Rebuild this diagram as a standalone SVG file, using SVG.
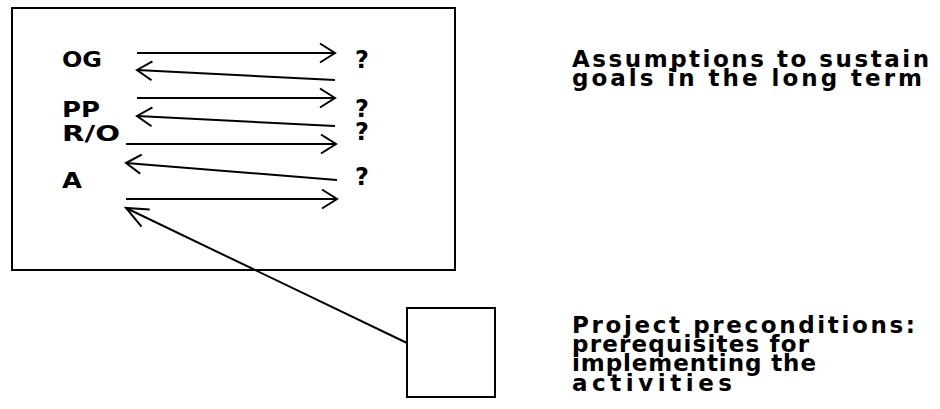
<svg xmlns="http://www.w3.org/2000/svg" width="940" height="409" viewBox="0 0 940 409">
<style>
.box{fill:#fff;stroke:#000;stroke-width:2}
.lbl{font-family:"DejaVu Sans","Liberation Sans",sans-serif;font-weight:bold;font-size:22px;fill:#000}
.q{font-family:"DejaVu Sans","Liberation Sans",sans-serif;font-weight:bold;font-size:24px;fill:#000}
.txt{font-family:"DejaVu Sans","Liberation Sans",sans-serif;font-weight:bold;font-size:23px;fill:#000}
.arr{fill:none;stroke:#000;stroke-width:2;marker-end:url(#head)}
.arr2{fill:none;stroke:#000;stroke-width:2;marker-end:url(#head2)}
</style>
<defs>
<marker id="head" markerUnits="userSpaceOnUse" orient="auto" refX="0" refY="0" markerWidth="30" markerHeight="30" viewBox="-20 -15 30 30" overflow="visible">
<path d="M -15 -9.5 L 0 0 L -15 9.5" fill="none" stroke="#000" stroke-width="2"/>
</marker>
<marker id="head2" markerUnits="userSpaceOnUse" orient="auto" refX="0" refY="0" markerWidth="30" markerHeight="30" viewBox="-25 -15 30 30" overflow="visible">
<path d="M -22 -10 L 0 0 L -22 9" fill="none" stroke="#000" stroke-width="2"/>
</marker>
</defs>
<g id="main-box">
<rect class="box" x="12" y="8" width="443" height="262"/>
<text class="lbl" x="62" y="67" textLength="40" lengthAdjust="spacingAndGlyphs">OG</text>
<text class="lbl" x="62" y="117" textLength="38" lengthAdjust="spacingAndGlyphs">PP</text>
<text class="lbl" x="62" y="141" textLength="58" lengthAdjust="spacingAndGlyphs">R/O</text>
<text class="lbl" x="62" y="188" textLength="20" lengthAdjust="spacingAndGlyphs">A</text>
<text class="q" x="355" y="68">?</text>
<text class="q" x="355" y="117">?</text>
<text class="q" x="355" y="140">?</text>
<text class="q" x="355" y="185">?</text>
</g>
<g id="precondition-box">
<rect class="box" x="407" y="308" width="88" height="89"/>
</g>
<g id="note-assumptions">
<text class="txt" x="572" y="67" textLength="357" lengthAdjust="spacing">Assumptions to sustain</text>
<text class="txt" x="572" y="86" textLength="350" lengthAdjust="spacing">goals in the long term</text>
</g>
<g id="note-preconditions">
<text class="txt" x="572" y="333" textLength="343" lengthAdjust="spacing">Project preconditions:</text>
<text class="txt" x="572" y="352" textLength="237" lengthAdjust="spacing">prerequisites for</text>
<text class="txt" x="572" y="371" textLength="244" lengthAdjust="spacing">implementing the</text>
<text class="txt" x="572" y="391" textLength="160" lengthAdjust="spacing">activities</text>
</g>
<g id="connectors">
<line class="arr" x1="137" y1="53" x2="335" y2="53"/>
<line class="arr" x1="335" y1="80" x2="137" y2="70"/>
<line class="arr" x1="137" y1="98" x2="335" y2="98"/>
<line class="arr" x1="335" y1="126" x2="137" y2="116"/>
<line class="arr" x1="126" y1="144" x2="336" y2="144"/>
<line class="arr" x1="337" y1="180" x2="126" y2="163"/>
<line class="arr" x1="126" y1="199" x2="337" y2="199"/>
<line class="arr2" x1="407" y1="343" x2="126" y2="208"/>
</g>
</svg>
